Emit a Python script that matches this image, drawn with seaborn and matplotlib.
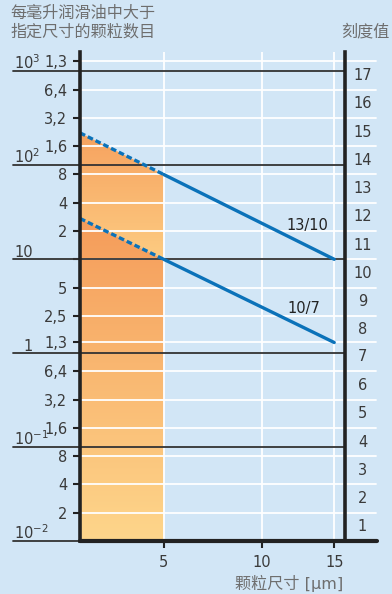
import numpy as np
import pandas as pd
import matplotlib
matplotlib.use("Agg")
import matplotlib.pyplot as plt
import seaborn as sns

# particles per ml at the scale-number boundaries (left axis)
count_bounds = [0.01, 0.02, 0.04, 0.08, 0.16, 0.32, 0.64, 1.3, 2.5, 5, 10,
                20, 40, 80, 160, 320, 640, 1300]
count_labels = ["2", "4", "8", "1,6", "3,2", "6,4", "1,3", "2,5", "5", "",
                "2", "4", "8", "1,6", "3,2", "6,4", "1,3"]
scale_numbers = list(range(1, 18))
decades = [0.01, 0.1, 1, 10, 100, 1000]
decade_labels = [r"$\mathregular{10^{-2}}$", r"$\mathregular{10^{-1}}$", "1", "10",
                 r"$\mathregular{10^{2}}$", r"$\mathregular{10^{3}}$"]

# cleanliness classes: particles per ml at 5 um and 15 um
sizes = [5, 15]
class_names = ["13/10", "10/7"]
counts_13_10 = [80, 10]
counts_10_7 = [10, 1.3]
size_ticks = [5, 10, 15]

BG = "#d2e6f6"
BLUE = "#0b72b9"
DARK = "#222222"
TXT = "#3a3a3a"
GREY = "#6e6e6e"
P = 0.42  # power used by the size axis

sns.set_style("white")
plt.rcParams["font.family"] = ["DejaVu Sans", "Noto Sans CJK SC"]

fig = plt.figure(figsize=(3.92, 5.94), dpi=100, facecolor=BG)
ax = fig.add_axes([0.2041, 0.0892, 0.6767, 0.8232], facecolor=BG)
ax.set_xscale("function", functions=(lambda x: np.power(np.clip(x, 1e-9, None), P),
                                     lambda u: np.power(np.clip(u, 0, None), 1 / P)))
ax.set_yscale("log", base=2)
XLIM = (2.23, 15.87)
YLIM = (0.01, 1610)
ax.set_xlim(*XLIM)
ax.set_ylim(*YLIM)

to_axes = ax.transScale + ax.transLimits


def left_end(c5, c15):
    # extend the class line to the left edge of the plot, straight on the chart
    a0 = to_axes.transform((sizes[0], c5))
    a1 = to_axes.transform((sizes[1], c15))
    slope = (a1[1] - a0[1]) / (a1[0] - a0[0])
    y_ax = a0[1] - slope * a0[0]
    return to_axes.inverted().transform((0, y_ax))[1]


yA = left_end(*counts_13_10)
yB = left_end(*counts_10_7)


def gradient_fill(xs, ys, c_top, c_bot):
    poly = ax.fill(xs, ys, facecolor="none", edgecolor="none")[0]
    top = to_axes.transform((XLIM[0], max(ys)))[1]
    bot = to_axes.transform((XLIM[0], min(ys)))[1]
    f = np.linspace(0, 1, 800)
    t = np.clip((top - f) / (top - bot), 0, 1)
    ct = np.array(matplotlib.colors.to_rgb(c_top))
    cb = np.array(matplotlib.colors.to_rgb(c_bot))
    rgb = (1 - t)[:, None] * ct + t[:, None] * cb
    im = ax.imshow(rgb[:, None, :], extent=(0, 1, 0, 1), transform=ax.transAxes,
                   origin="lower", aspect="auto", interpolation="bilinear", zorder=1.5)
    im.set_clip_path(poly)


gradient_fill([XLIM[0], sizes[0], sizes[0], XLIM[0]],
              [yA, counts_13_10[0], counts_10_7[0], yB], "#f6a25f", "#fdcc82")
gradient_fill([XLIM[0], sizes[0], sizes[0], XLIM[0]],
              [yB, counts_10_7[0], YLIM[0], YLIM[0]], "#f59c5a", "#fed68b")

# white grid
for b in count_bounds[1:]:
    ax.axhline(b, xmin=0, xmax=1.117, color="white", lw=1.3, clip_on=False, zorder=2)
for s in size_ticks:
    ax.axvline(s, color="white", lw=1.3, zorder=2)

# decade lines and labels
for d, lab in zip(decades, decade_labels):
    if d == decades[0]:
        ax.axhline(d, xmin=-0.253, xmax=0, color="#333333", lw=1.3, clip_on=False, zorder=3)
    else:
        ax.axhline(d, xmin=-0.253, xmax=1, color="#333333", lw=1.3, clip_on=False, zorder=3)
    if lab == "1":
        xpos, ha = -0.178, "right"
    else:
        xpos, ha = -0.249, "left"
    ax.annotate(lab, xy=(xpos, d), xycoords=ax.get_yaxis_transform(), xytext=(0, 1.5),
                textcoords="offset points", ha=ha, va="baseline", fontsize=10.5, color=TXT)
ax.axhline(YLIM[0], xmin=0, xmax=1.12, color=DARK, lw=3, clip_on=False, zorder=4)

# class lines
df = pd.DataFrame({
    "size": sizes * 2,
    "count": counts_13_10 + counts_10_7,
    "cls": [class_names[0]] * 2 + [class_names[1]] * 2,
})
sns.lineplot(data=df, x="size", y="count", units="cls", estimator=None, color=BLUE,
             lw=2.4, ax=ax, zorder=5, legend=False)
for y_left, counts, name, dx in [(yA, counts_13_10, class_names[0], -19.5),
                                 (yB, counts_10_7, class_names[1], -21.5)]:
    ax.plot([XLIM[0], sizes[0]], [y_left, counts[0]], color=BLUE, lw=2.4,
            ls=(0, (1.7, 0.9)), zorder=5)
    ax.annotate(name, xy=(sizes[1], counts[1]), xytext=(dx, 24.5), textcoords="offset points",
                ha="center", va="center", fontsize=10.5, color="#222222")

# right scale numbers
for n in scale_numbers:
    mid = np.sqrt(count_bounds[n - 1] * count_bounds[n])
    ax.text(1.065, mid, str(n), transform=ax.get_yaxis_transform(), ha="center",
            va="center", fontsize=10.5, color=TXT)

# axes
ax.set_yticks(count_bounds[1:])
ax.set_yticklabels(count_labels)
ax.yaxis.set_minor_locator(matplotlib.ticker.NullLocator())
ax.set_xticks(size_ticks)
ax.set_xticklabels([str(s) for s in size_ticks])
ax.xaxis.set_minor_locator(matplotlib.ticker.NullLocator())
ax.tick_params(axis="y", direction="out", length=5, width=1.5, color=DARK,
               labelsize=10.5, labelcolor=TXT, pad=4, left=True, right=False)
ax.tick_params(axis="x", direction="out", length=5, width=1.5, color=DARK,
               labelsize=10.5, labelcolor=TXT, pad=5, bottom=True)
ax.set_xlabel("")
ax.set_ylabel("")
for side in ["top", "bottom"]:
    ax.spines[side].set_visible(False)
for side in ["left", "right"]:
    ax.spines[side].set_linewidth(2.6)
    ax.spines[side].set_color(DARK)
    ax.spines[side].set_zorder(6)

ax.set_xlim(*XLIM)
ax.set_ylim(*YLIM)

fig.text(10 / 392, 1 - 13 / 594, "每毫升润滑油中大于", ha="left", va="center",
         fontsize=11.6, color=GREY)
fig.text(10 / 392, 1 - 32 / 594, "指定尺寸的颗粒数目", ha="left", va="center",
         fontsize=11.6, color=GREY)
fig.text(341 / 392, 1 - 32 / 594, "刻度值", ha="left", va="center", fontsize=11.6, color=GREY)
fig.text(343 / 392, 1 - 583 / 594, "颗粒尺寸 [µm]", ha="right", va="center",
         fontsize=11.6, color=GREY)

fig.savefig("out.png", dpi=100, facecolor=BG)
